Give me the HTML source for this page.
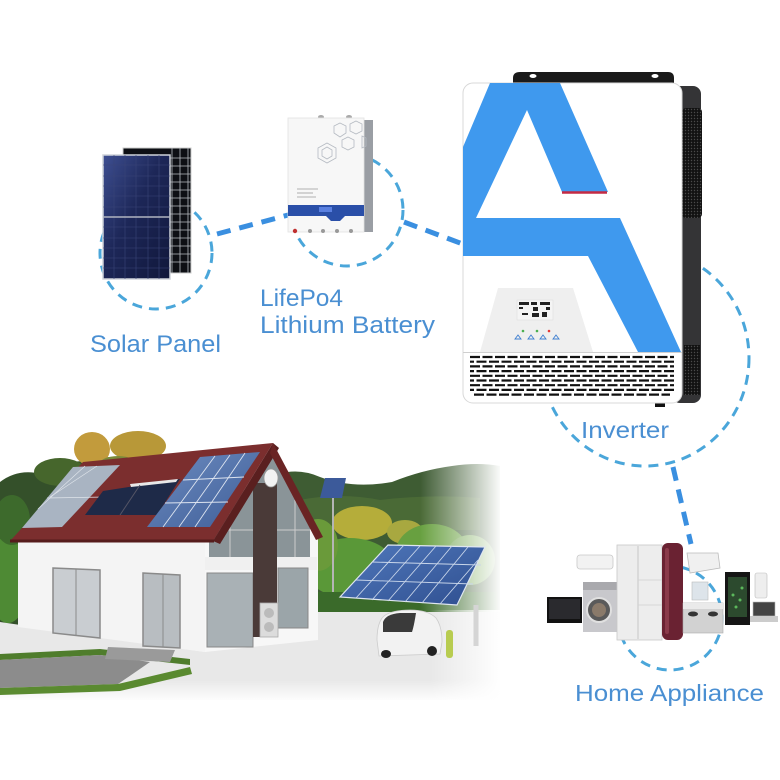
<!DOCTYPE html>
<html><head><meta charset="utf-8"><style>
html,body{margin:0;padding:0;background:#fff;}
svg{display:block}
.lbl{font-family:"Liberation Sans",sans-serif;fill:#4a8fd2}
</style></head><body>
<svg width="780" height="780" viewBox="0 0 780 780" xmlns="http://www.w3.org/2000/svg">
<defs>
 <linearGradient id="fadeR" x1="0" x2="1" y1="0" y2="0">
   <stop offset="0" stop-color="#fff" stop-opacity="0"/>
   <stop offset="1" stop-color="#fff" stop-opacity="1"/>
 </linearGradient>
 <linearGradient id="fadeB" x1="0" x2="0" y1="0" y2="1">
   <stop offset="0" stop-color="#fff" stop-opacity="0"/>
   <stop offset="1" stop-color="#fff" stop-opacity="1"/>
 </linearGradient>
 <linearGradient id="panelG" x1="0" y1="0" x2="1" y2="1">
   <stop offset="0" stop-color="#3e4f92"/>
   <stop offset="0.45" stop-color="#1d2758"/>
   <stop offset="1" stop-color="#10173a"/>
 </linearGradient>
 <linearGradient id="roofPanel" x1="0" y1="0" x2="1" y2="1">
   <stop offset="0" stop-color="#6d8cc0"/>
   <stop offset="1" stop-color="#3f5e98"/>
 </linearGradient>
 <linearGradient id="carportG" x1="0" y1="0" x2="1" y2="1">
   <stop offset="0" stop-color="#5078bb"/>
   <stop offset="1" stop-color="#2f4f90"/>
 </linearGradient>
 <pattern id="dots" width="3" height="3" patternUnits="userSpaceOnUse">
   <rect width="3" height="3" fill="#121212"/>
   <circle cx="1.5" cy="1.5" r="0.7" fill="#4a4a4a"/>
 </pattern>
 <clipPath id="invClip"><rect x="463" y="83" width="219" height="320" rx="10"/></clipPath>
</defs>

<rect width="780" height="780" fill="#fff"/>

<!-- ===== House scene background ===== -->
<g>
 <!-- left trees -->
 <path d="M0,482 Q18,468 42,474 Q64,458 92,462 Q110,452 130,462 L170,470 L170,625 L0,625 Z" fill="#34502a"/>
 <ellipse cx="92" cy="449" rx="18" ry="17" fill="#c29b3c"/>
 <ellipse cx="138" cy="446" rx="28" ry="15" fill="#b89838"/>
 <ellipse cx="60" cy="472" rx="26" ry="14" fill="#46662c"/>
 <ellipse cx="118" cy="466" rx="20" ry="10" fill="#7a8a3a"/>
 <ellipse cx="8" cy="575" rx="22" ry="48" fill="#4e8a34"/>
 <ellipse cx="12" cy="520" rx="18" ry="25" fill="#3d6a2c"/>
 <!-- right hills -->
 <path d="M262,482 Q290,464 320,477 Q352,489 392,482 Q422,470 452,466 Q478,462 500,466 L500,620 L262,620 Z" fill="#3e5c33"/>
 <path d="M300,500 Q340,492 380,500 Q430,494 480,498 L480,530 L300,530 Z" fill="#4a6a36"/>
 <ellipse cx="362" cy="523" rx="30" ry="17" fill="#b5ad3a"/>
 <ellipse cx="405" cy="532" rx="18" ry="12" fill="#a8a840"/>
 <ellipse cx="350" cy="568" rx="45" ry="30" fill="#5a9838"/>
 <ellipse cx="432" cy="552" rx="36" ry="28" fill="#68a040"/>
 <ellipse cx="318" cy="545" rx="20" ry="26" fill="#6a9a3a"/>
 <ellipse cx="470" cy="560" rx="25" ry="25" fill="#78a858"/>
 <rect x="295" y="592" width="205" height="24" fill="#3a6a2a"/>
 <rect x="420" y="440" width="82" height="190" fill="url(#fadeR)"/>
 <rect x="500" y="440" width="20" height="190" fill="#fff"/>
</g>

<!-- ground -->
<path d="M0,622 L205,652 L300,612 L500,612 L500,700 L0,700 Z" fill="#e8e8e8"/>
<rect x="0" y="680" width="500" height="22" fill="url(#fadeB)"/>
<rect x="430" y="610" width="72" height="92" fill="url(#fadeR)"/>
<polygon points="0,654 100,649 190,659 190,665 100,655 0,660" fill="#4f7d2c"/>
<polygon points="0,660 100,655 150,662 118,684 0,688" fill="#8c8c8c"/>
<polygon points="0,688 118,684 190,667 192,674 120,691 0,695" fill="#5a8a30"/>
<polygon points="108,647 175,650 170,662 105,659" fill="#9a9a9a"/>

<!-- ===== House ===== -->
<!-- left wall -->
<polygon points="18,540 205,540 205,652 18,627" fill="#f4f4f4"/>
<polygon points="53,568 100,570 100,638 53,633" fill="#c9cdd1" stroke="#8a8a8a" stroke-width="1.5"/>
<line x1="76" y1="569" x2="76" y2="636" stroke="#8a8a8a" stroke-width="1"/>
<polygon points="143,573 180,575 180,648 143,646" fill="#b8bdc1" stroke="#8a8a8a" stroke-width="1.5"/>
<line x1="163" y1="574" x2="163" y2="647" stroke="#8a8a8a" stroke-width="1"/>
<!-- gable front -->
<polygon points="205,540 273,447 318,540 318,640 205,652" fill="#f7f7f7"/>
<polygon points="209,557 209,538 268,458 280,458 310,528 310,557" fill="#8a9498"/>
<line x1="230" y1="510" x2="230" y2="557" stroke="#ccc" stroke-width="1"/>
<line x1="295" y1="500" x2="295" y2="557" stroke="#ccc" stroke-width="1"/>
<line x1="209" y1="530" x2="310" y2="530" stroke="#ccc" stroke-width="1"/>
<rect x="205" y="557" width="112" height="13" fill="#f0f0f0"/>
<rect x="207" y="573" width="46" height="74" fill="#a9b1b5" stroke="#888" stroke-width="1"/>
<rect x="278" y="568" width="30" height="60" fill="#9ba5a9" stroke="#888" stroke-width="1"/>
<rect x="253" y="483" width="24" height="154" fill="#4a3a38"/>
<rect x="260" y="603" width="18" height="34" fill="#dcdcdc" stroke="#aaa" stroke-width="0.8"/>
<circle cx="269" cy="613" r="5" fill="#bbb"/><circle cx="269" cy="627" r="5" fill="#bbb"/>
<!-- roof -->
<polygon points="10,541 83,462 273,443 213,541" fill="#7b2e2e"/>
<polygon points="213,541 273,443 279,448 220,544" fill="#5a1f1f"/>
<polygon points="273,443 323,537 316,540 270,453" fill="#6a2424"/>
<line x1="10" y1="541" x2="214" y2="541" stroke="#561c1c" stroke-width="3"/>
<!-- roof panels -->
<polygon points="22,528 73,467 120,465 62,527" fill="#a9b4c2"/>
<g stroke="#dfe4ea" stroke-width="0.7">
 <line x1="38" y1="509" x2="85" y2="466"/><line x1="50" y1="497" x2="97" y2="466"/>
 <line x1="47" y1="498" x2="105" y2="497"/>
</g>
<polygon points="85,515 103,491 180,479 157,515" fill="#1e2a48"/>
<polygon points="130,484 178,479 176,482 131,487" fill="#e8e8e8"/>
<line x1="120" y1="515" x2="140" y2="485" stroke="#556" stroke-width="1"/>
<polygon points="147,527 200,457 260,452 210,527" fill="url(#roofPanel)"/>
<g stroke="#dde4f0" stroke-width="0.9">
 <line x1="163" y1="527" x2="215" y2="456"/><line x1="179" y1="527" x2="230" y2="455"/><line x1="195" y1="527" x2="245" y2="453"/>
 <line x1="165" y1="503" x2="228" y2="502"/><line x1="183" y1="480" x2="244" y2="477"/>
</g>
<ellipse cx="271" cy="478" rx="7" ry="9" fill="#f2f2f2" stroke="#999" stroke-width="0.8"/>

<!-- street light -->
<line x1="333" y1="498" x2="333" y2="592" stroke="#b5b5b5" stroke-width="2"/>
<polygon points="320,498 325,478 346,478 342,498" fill="#3c5a9a"/>
<!-- carport -->
<line x1="476" y1="605" x2="476" y2="646" stroke="#d5d5d5" stroke-width="5"/>
<polygon points="340,597 388,545 485,547 457,605" fill="url(#carportG)" stroke="#dfe6f0" stroke-width="1.2"/>
<g stroke="#c9d6ea" stroke-width="0.9">
 <line x1="356" y1="598" x2="404" y2="545"/><line x1="372" y1="600" x2="420" y2="546"/><line x1="388" y1="601" x2="436" y2="546"/>
 <line x1="405" y1="602" x2="452" y2="546"/><line x1="422" y1="603" x2="468" y2="547"/><line x1="440" y1="604" x2="478" y2="560"/>
 <line x1="356" y1="580" x2="473" y2="584"/><line x1="372" y1="562" x2="481" y2="565"/>
</g>
<!-- car -->
<path d="M377,640 Q377,622 384,616 Q392,610 410,610 Q428,610 436,618 Q442,626 442,642 L440,654 L379,656 Z" fill="#f2f2f2" stroke="#ccc" stroke-width="0.8"/>
<path d="M383,622 Q386,614 400,613 L416,613 Q414,626 412,632 L383,632 Z" fill="#3a3a3a"/>
<ellipse cx="386" cy="654" rx="5" ry="4" fill="#222"/>
<ellipse cx="432" cy="651" rx="5" ry="5" fill="#222"/>
<rect x="446" y="630" width="7" height="28" rx="3" fill="#b8cc50"/>

<!-- ===== Dashed connectors & circles ===== -->
<g fill="none" stroke="#4aa6da" stroke-width="3" stroke-dasharray="10 7">
 <circle cx="156" cy="253" r="56"/>
 <circle cx="347" cy="210" r="56"/>
 <ellipse cx="645" cy="358" rx="104" ry="108"/>
 <circle cx="670" cy="618" r="52"/>
</g>
<g fill="none" stroke="#3a8fe0" stroke-width="5" stroke-dasharray="14 9">
 <line x1="217" y1="234" x2="292" y2="214"/>
 <line x1="404" y1="222" x2="468" y2="246"/>
 <line x1="673" y1="467" x2="691" y2="544"/>
</g>

<!-- ===== Solar panels ===== -->
<rect x="123" y="148" width="68" height="125" fill="#0d0f14" stroke="#ccc" stroke-width="1"/>
<g stroke="#b8bcc2" stroke-width="0.8">
 <line x1="172" y1="148" x2="172" y2="273"/><line x1="180" y1="148" x2="180" y2="273"/><line x1="188" y1="148" x2="188" y2="273"/>
 <line x1="170" y1="158" x2="191" y2="158"/><line x1="170" y1="166" x2="191" y2="166"/><line x1="170" y1="174" x2="191" y2="174"/>
 <line x1="170" y1="182" x2="191" y2="182"/><line x1="170" y1="190" x2="191" y2="190"/><line x1="170" y1="198" x2="191" y2="198"/>
 <line x1="170" y1="206" x2="191" y2="206"/><line x1="170" y1="214" x2="191" y2="214"/><line x1="170" y1="222" x2="191" y2="222"/>
 <line x1="170" y1="230" x2="191" y2="230"/><line x1="170" y1="238" x2="191" y2="238"/><line x1="170" y1="246" x2="191" y2="246"/>
 <line x1="170" y1="254" x2="191" y2="254"/><line x1="170" y1="262" x2="191" y2="262"/>
</g>
<rect x="103" y="155" width="67" height="124" fill="url(#panelG)" stroke="#cfd3da" stroke-width="1.5"/>
<g stroke="#3a4578" stroke-width="0.6">
 <line x1="114" y1="155" x2="114" y2="279"/><line x1="125" y1="155" x2="125" y2="279"/><line x1="136" y1="155" x2="136" y2="279"/>
 <line x1="148" y1="155" x2="148" y2="279"/><line x1="159" y1="155" x2="159" y2="279"/>
 <line x1="103" y1="165" x2="170" y2="165"/><line x1="103" y1="176" x2="170" y2="176"/><line x1="103" y1="186" x2="170" y2="186"/>
 <line x1="103" y1="196" x2="170" y2="196"/><line x1="103" y1="207" x2="170" y2="207"/><line x1="103" y1="227" x2="170" y2="227"/>
 <line x1="103" y1="238" x2="170" y2="238"/><line x1="103" y1="248" x2="170" y2="248"/><line x1="103" y1="258" x2="170" y2="258"/>
 <line x1="103" y1="268" x2="170" y2="268"/>
</g>
<line x1="103" y1="217" x2="170" y2="217" stroke="#b0b4c0" stroke-width="1.5"/>

<!-- ===== Battery ===== -->
<rect x="362" y="120" width="11" height="112" fill="#9a9ea4"/>
<ellipse cx="321" cy="117" rx="3" ry="2" fill="#aaa"/><ellipse cx="349" cy="117" rx="3" ry="2" fill="#aaa"/>
<rect x="288" y="118" width="76" height="114" fill="#f7f7f7" stroke="#e2e2e2" stroke-width="0.8"/>
<g fill="none" stroke="#b5bac2" stroke-width="0.8">
 <polygon points="327,143 336,148 336,158 327,163 318,158 318,148"/>
 <polygon points="327,147 332,150 332,156 327,159 322,156 322,150"/>
 <polygon points="340,123 346,126 346,133 340,137 334,133 334,126"/>
 <polygon points="356,121 362,124 362,131 356,134 350,131 350,124"/>
 <polygon points="348,137 354,140 354,147 348,150 342,147 342,140"/>
 <polygon points="362,136 366,138 366,146 362,148"/>
</g>
<g stroke="#999" stroke-width="0.8">
 <line x1="297" y1="189" x2="318" y2="189"/><line x1="297" y1="193" x2="313" y2="193"/><line x1="297" y1="197" x2="316" y2="197"/>
</g>
<path d="M288,205 L364,205 L364,216 L345,216 L340,221 L331,221 L326,216 L288,216 Z" fill="#2a4fa8"/>
<rect x="319" y="207" width="13" height="5" fill="#5a80e0"/>
<circle cx="295" cy="231" r="2.2" fill="#c03030"/>
<circle cx="310" cy="231" r="2" fill="#999"/><circle cx="323" cy="231" r="2" fill="#999"/>
<circle cx="337" cy="231" r="2" fill="#999"/><circle cx="351" cy="231" r="2" fill="#999"/>

<!-- ===== Inverter ===== -->
<path d="M520,72 L668,72 Q674,72 674,78 L674,90 L513,90 L513,78 Q513,72 520,72 Z" fill="#1a1a1a"/>
<ellipse cx="533" cy="76" rx="3.5" ry="2" fill="#fff"/><ellipse cx="655" cy="76" rx="3.5" ry="2" fill="#fff"/>
<rect x="672" y="86" width="29" height="317" rx="8" fill="#343436"/>
<rect x="682" y="108" width="20" height="110" rx="4" fill="url(#dots)"/>
<rect x="684" y="345" width="16" height="50" fill="url(#dots)"/>
<rect x="655" y="399" width="10" height="8" fill="#111"/>
<rect x="463" y="83" width="219" height="320" rx="10" fill="#fff" stroke="#d8d8d8" stroke-width="1"/>
<g clip-path="url(#invClip)">
 <polygon points="490,83 560,83 608,192 562,192 527,110 476,218 620,218 681,352 638,352 588,256 463,256 463,147" fill="#3f99ee"/>
 <line x1="562" y1="192.5" x2="607" y2="192.5" stroke="#c42a44" stroke-width="2.5"/>
 <polygon points="498,288 573,288 593,352 480,352" fill="#efefef"/>
 <line x1="463" y1="352.5" x2="682" y2="352.5" stroke="#cfcfcf" stroke-width="1"/>
 <g stroke="#111" stroke-width="2.2">
  <line x1="470" y1="357" x2="674" y2="357" stroke-dasharray="10 2.5"/>
  <line x1="470" y1="361.7" x2="674" y2="361.7" stroke-dasharray="10 2.5" stroke-dashoffset="6"/>
  <line x1="470" y1="366.4" x2="674" y2="366.4" stroke-dasharray="10 2.5"/>
  <line x1="470" y1="371.1" x2="674" y2="371.1" stroke-dasharray="10 2.5" stroke-dashoffset="6"/>
  <line x1="470" y1="375.8" x2="674" y2="375.8" stroke-dasharray="10 2.5"/>
  <line x1="470" y1="380.5" x2="674" y2="380.5" stroke-dasharray="10 2.5" stroke-dashoffset="6"/>
  <line x1="470" y1="385.2" x2="674" y2="385.2" stroke-dasharray="10 2.5"/>
  <line x1="470" y1="389.9" x2="674" y2="389.9" stroke-dasharray="10 2.5" stroke-dashoffset="6"/>
  <line x1="474" y1="394.6" x2="670" y2="394.6" stroke-dasharray="10 2.5"/>
 </g>
</g>
<!-- LCD -->
<rect x="517" y="300" width="36" height="20" fill="#f4f4f4" stroke="#ddd" stroke-width="0.6"/>
<g fill="#222">
 <rect x="519" y="302" width="10" height="3"/><rect x="531" y="302" width="6" height="3"/><rect x="540" y="302" width="10" height="3"/>
 <rect x="519" y="307" width="4" height="2"/><rect x="533" y="307" width="5" height="4"/><rect x="546" y="307" width="4" height="3"/>
 <rect x="522" y="313" width="6" height="2"/><rect x="532" y="313" width="7" height="4"/><rect x="542" y="312" width="5" height="5"/>
</g>
<circle cx="523" cy="331" r="1.3" fill="#4caf50"/><circle cx="537" cy="331" r="1.3" fill="#4caf50"/><circle cx="549" cy="331" r="1.3" fill="#e53935"/>
<g fill="none" stroke="#3f7fd0" stroke-width="0.9">
 <polygon points="518,335 521,339 515,339"/><polygon points="531,335 534,339 528,339"/>
 <polygon points="543,335 546,339 540,339"/><polygon points="556,335 559,339 553,339"/>
</g>

<!-- ===== Appliances ===== -->
<rect x="547" y="597" width="35" height="26" fill="#121212"/>
<rect x="549" y="599" width="31" height="20" fill="#2a2a2e"/>
<rect x="577" y="555" width="36" height="14" rx="3" fill="#f2f2f2" stroke="#c8c8c8" stroke-width="0.8"/>
<rect x="583" y="582" width="34" height="50" fill="#c8c8cc"/>
<rect x="583" y="582" width="34" height="8" fill="#a9a9ad"/>
<circle cx="599" cy="610" r="12" fill="#5a5a5a" stroke="#e0e0e0" stroke-width="2"/>
<circle cx="599" cy="610" r="7" fill="#8a7a6a"/>
<rect x="617" y="545" width="45" height="95" fill="#ededed" stroke="#c8c8c8" stroke-width="0.8"/>
<line x1="638" y1="546" x2="638" y2="639" stroke="#c8c8c8" stroke-width="1"/>
<line x1="638" y1="580" x2="662" y2="580" stroke="#d0d0d0" stroke-width="0.8"/>
<line x1="638" y1="605" x2="662" y2="605" stroke="#d0d0d0" stroke-width="0.8"/>
<rect x="662" y="543" width="21" height="97" rx="6" fill="#6a2232"/>
<rect x="665" y="548" width="4" height="86" rx="2" fill="#8a3a4a"/>
<polygon points="687,553 718,553 720,568 690,573" fill="#f0f0f0" stroke="#bbb" stroke-width="0.8"/>
<rect x="692" y="582" width="16" height="18" fill="#dde4ea" stroke="#bbb" stroke-width="0.6"/>
<rect x="683" y="603" width="40" height="30" fill="#d2d2d2" stroke="#aaa" stroke-width="0.6"/>
<rect x="683" y="603" width="40" height="6" fill="#eaeaea"/>
<ellipse cx="693" cy="614" rx="5" ry="2.5" fill="#333"/><ellipse cx="713" cy="614" rx="5" ry="2.5" fill="#333"/>
<rect x="725" y="572" width="25" height="53" fill="#151515"/>
<rect x="728" y="577" width="19" height="40" fill="#2c4a2e"/>
<g fill="#5cb85c"><circle cx="733" cy="595" r="1.5"/><circle cx="740" cy="600" r="1.5"/><circle cx="736" cy="607" r="1.5"/><circle cx="742" cy="588" r="1.5"/></g>
<rect x="755" y="573" width="12" height="25" rx="2" fill="#eee" stroke="#bbb" stroke-width="0.6"/>
<rect x="753" y="602" width="22" height="14" fill="#444" stroke="#bbb" stroke-width="0.6"/>
<polygon points="750,616 778,616 778,622 750,622" fill="#ccc"/>

<!-- ===== Labels ===== -->
<text class="lbl" x="90" y="352" font-size="24" textLength="131" lengthAdjust="spacingAndGlyphs">Solar Panel</text>
<text class="lbl" x="260" y="306" font-size="24" textLength="83" lengthAdjust="spacingAndGlyphs">LifePo4</text>
<text class="lbl" x="260" y="333" font-size="24" textLength="175" lengthAdjust="spacingAndGlyphs">Lithium Battery</text>
<text class="lbl" x="581" y="438" font-size="23" textLength="88" lengthAdjust="spacingAndGlyphs">Inverter</text>
<text class="lbl" x="575" y="701" font-size="23" textLength="189" lengthAdjust="spacingAndGlyphs">Home Appliance</text>
</svg>
</body></html>
